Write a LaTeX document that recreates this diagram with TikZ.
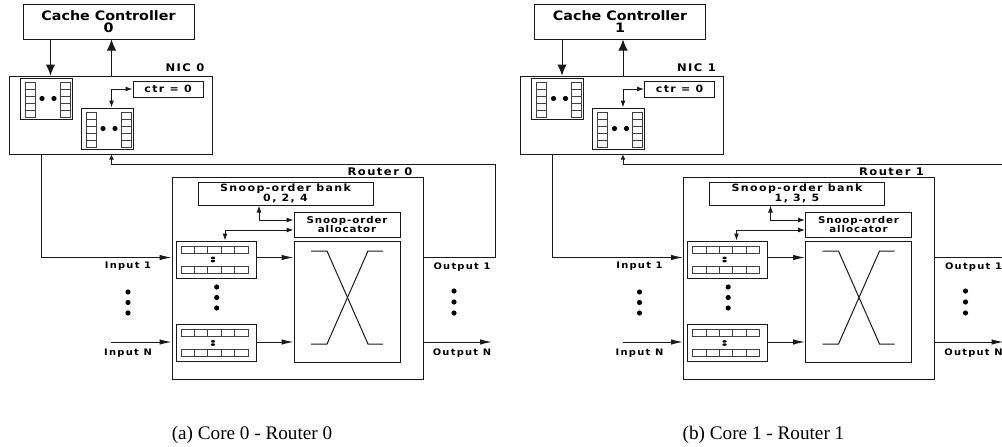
\documentclass[tikz,border=0pt]{standalone}
\usepackage{fontspec}
\setmainfont{Liberation Serif}
\newfontfamily\lblwide{DejaVu Sans}[FakeStretch=1.1,LetterSpace=14]
\newfontfamily\lblmid{DejaVu Sans}[FakeStretch=1.1,LetterSpace=10]
\newfontfamily\lblcc{DejaVu Sans}[FakeStretch=1.1]
\usetikzlibrary{arrows.meta,calc}
\tikzset{
  ln/.style={line width=1pt, draw=black!90},
  box/.style={draw=black!90, line width=1pt, inner sep=0pt, align=center},
  qbox/.style={draw=black!90, line width=1pt, inner sep=0pt},
  cell/.style={draw=black!75, line width=0.65pt},
  arr/.style={ln, -{Latex[length=11pt,width=9.5pt]}},
  arrh/.style={ln, -{Latex[length=12pt,width=5.5pt]}},
  arrs/.style={ln, -{Latex[length=5pt,width=5pt]}},
  darr/.style={ln, {Latex[length=7pt,width=5pt]}-{Latex[length=7pt,width=5pt]}},
  cctext/.style={font=\lblcc\bfseries\fontsize{13}{11.6}\selectfont},
  bigl/.style={font=\lblwide\bfseries\fontsize{10.5}{11}\selectfont, inner sep=0pt},
  smalll/.style={font=\lblwide\bfseries\fontsize{9}{10}\selectfont, inner sep=0pt},
  bankl/.style={font=\lblwide\bfseries\fontsize{10}{10.3}\selectfont},
  allocl/.style={font=\lblmid\bfseries\fontsize{9.3}{9.3}\selectfont},
  capt/.style={font=\fontsize{19.2}{20}\selectfont, inner sep=0pt}
}
\newcommand\nicq[3]{%
  \node[qbox, minimum width=52pt, minimum height=41pt] (#1) at (#2,#3) {};
  \foreach \k in {0,...,4}{%
    \draw[cell] ({#2-21},{#3-16.5+7*\k}) rectangle ({#2-11},{#3-9.5+7*\k});
    \draw[cell] ({#2+14},{#3-16.5+7*\k}) rectangle ({#2+24},{#3-9.5+7*\k});
  }
  \fill ({#2-4},#3) circle[radius=2.6pt];
  \fill ({#2+8},#3) circle[radius=2.6pt];
}
\newcommand\inq[3]{%
  \node[qbox, minimum width=80pt, minimum height=37pt] (#1) at (#2,#3) {};
  \foreach \k in {0,...,4}{%
    \draw[cell] ({#2-35+13.4*\k},{#3-13.5}) rectangle ({#2-21.6+13.4*\k},{#3-6.5});
    \draw[cell] ({#2-35+13.4*\k},{#3+6.5}) rectangle ({#2-21.6+13.4*\k},{#3+13.5});
  }
  \fill ({#2-3},{#3-1.6}) ellipse[x radius=2.2pt, y radius=1.3pt];
  \fill ({#2-3},{#3+1.6}) ellipse[x radius=2.2pt, y radius=1.3pt];
}
\newcommand\panel[5]{% suffix, xshift, number, bank, caption
\begin{scope}[xshift=#2]
  % cache controller and NIC
  \node[box, cctext, minimum width=171pt, minimum height=35pt] (cc#1) at (108.5,21.5) {Cache Controller\\#3};
  \node[box, minimum width=203pt, minimum height=78pt] (nic#1) at (110.5,115) {};
  \node[bigl] (nicl#1) at (185,68) {NIC #3};
  \nicq{qa#1}{46}{98.5}
  \nicq{qb#1}{107}{128.5}
  \node[box, bankl, minimum width=70pt, minimum height=16pt] (ctr#1) at (168,89) {ctr = 0};
  \coordinate (dn#1) at (50.5,0);
  \coordinate (up#1) at (111.5,0);
  \coordinate (lf#1) at (41,0);
  \coordinate (r1#1) at (0,257.5);
  \coordinate (rn#1) at (0,342);
  \coordinate (lp#1) at (495,164);
  \coordinate (inN#1) at (111,342);
  \coordinate (outN#1) at (492,342);
  \coordinate (bk#1) at (259,0);
  \coordinate (ay1#1) at (0,220);
  \coordinate (ay2#1) at (0,230);
  \coordinate (qx#1) at (225,0);
  \draw[arr] (cc#1.south -| dn#1) -- (nic#1.north -| dn#1);
  \draw[arr] (nic#1.north -| up#1) -- (cc#1.south -| up#1);
  \draw[darr] (qb#1.north -| up#1) |- (ctr#1.west);
  % router
  \node[box, minimum width=251pt, minimum height=202pt] (rt#1) at (297.5,278) {};
  \node[bigl] (rtl#1) at (380,172) {Router #3};
  \node[box, bankl, minimum width=175pt, minimum height=23pt] (bank#1) at (285.5,193.5) {Snoop-order bank\\#4};
  \node[box, allocl, minimum width=106pt, minimum height=25pt] (alloc#1) at (347,224.5) {Snoop-order\\allocator};
  \inq{iq#1}{216}{259.5}
  \inq{iqn#1}{216}{343}
  \node[box, minimum width=106pt, minimum height=121pt] (xb#1) at (347,301.5) {};
  \draw[ln] (311,251) -- (327,251) -- (368,344) -- (383,344);
  \draw[ln] (311,344) -- (327,344) -- (368,251) -- (383,251);
  \draw[darr] (bank#1.south -| bk#1) |- (alloc#1.west |- ay1#1);
  \draw[darr] (alloc#1.west |- ay2#1) -| (iq#1.north -| qx#1);
  \draw[arrh] (iq#1.east |- r1#1) -- (xb#1.west |- r1#1);
  \draw[arrh] (iqn#1.east |- rn#1) -- (xb#1.west |- rn#1);
  % inputs and outputs
  \draw[arrh] (nic#1.south -| lf#1) |- (rt#1.west |- r1#1);
  \draw[arrh] (inN#1) -- (rt#1.west |- rn#1);
  \draw[arrs] (rt#1.east |- r1#1) -| (lp#1) -| (nic#1.south -| up#1);
  \draw[arrh] (rt#1.east |- rn#1) -- (outN#1);
  \node[smalll] (in1l#1) at (128,266) {Input 1};
  \node[smalll] (inNl#1) at (128,353) {Input N};
  \node[smalll] (o1l#1) at (462,267) {Output 1};
  \node[smalll] (oNl#1) at (462,353) {Output N};
  \foreach \yy in {292,302.5,313}{\fill (128,\yy) circle[radius=2.6pt];}
  \foreach \yy in {291,302,313}{\fill (454,\yy) circle[radius=2.6pt];}
  \foreach \yy in {287,297.5,308}{\fill (216.7,\yy) circle[radius=2.6pt];}
  \node[capt] (cap#1) at (252,435) {#5};
\end{scope}}
\begin{document}
\begin{tikzpicture}[x=1pt,y=-1pt]
  \useasboundingbox (0,0) rectangle (1002,447);
  \clip (0,0) rectangle (1002,447);
  \fill[white] (0,0) rectangle (1002,447);
  \panel{a}{0}{0}{0, 2, 4}{(a) Core 0 - Router 0}
  \panel{b}{511.5}{1}{1, 3, 5}{(b) Core 1 - Router 1}
\end{tikzpicture}
\end{document}
